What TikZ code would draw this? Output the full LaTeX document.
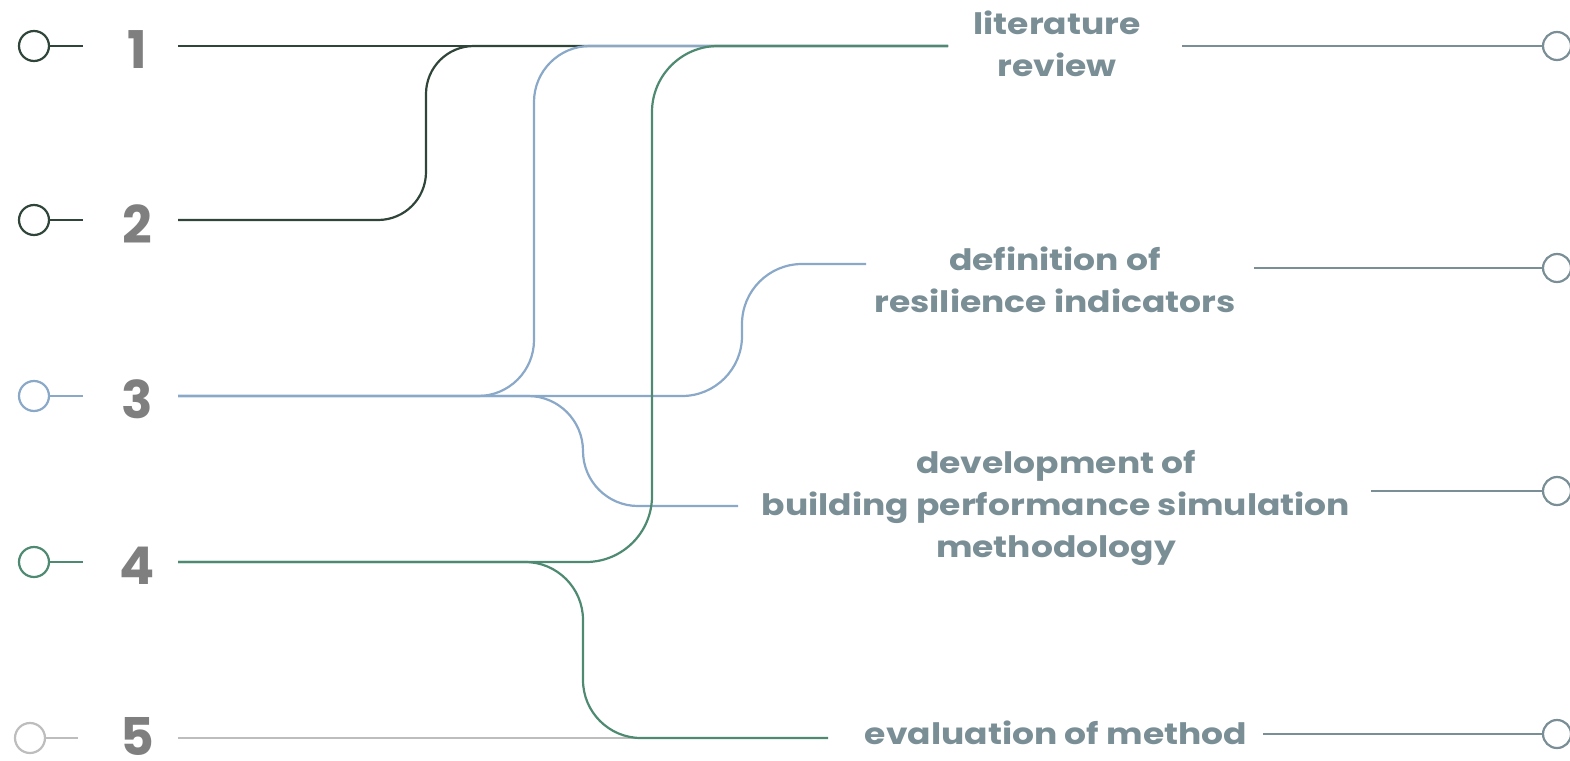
\documentclass[tikz,border=0pt]{standalone}
\usepackage{fontspec}
\setmainfont{Poppins}
\newfontfamily\labfont{Poppins}[FakeStretch=1.17]
\definecolor{cdark}{HTML}{2F453A}
\definecolor{cblue}{HTML}{8AA8C8}
\definecolor{cgreen}{HTML}{4E8A72}
\definecolor{clab}{HTML}{7A8E96}
\definecolor{cnum}{HTML}{7F7F7F}
\definecolor{cgray}{HTML}{BDBDBD}
\begin{document}
\begin{tikzpicture}[x=1pt,y=-1pt,
  lcirc/.style={circle,draw,line width=2.2pt,minimum size=30pt,inner sep=0pt,fill=white},
  rcirc/.style={circle,draw=clab,line width=2.2pt,minimum size=28pt,inner sep=0pt,fill=white},
  num/.style={text=cnum,inner sep=0pt,font=\fontsize{52}{52}\selectfont\bfseries},
  lab/.style={text=clab,align=center,font=\labfont\fontsize{29.5}{42}\selectfont\bfseries},
  wire/.style={line width=2.2pt},
  rwire/.style={line width=2.2pt,draw=clab}]
\useasboundingbox (0,0) rectangle (1570,760);

% left circles
\node[lcirc,draw=cdark] (c1) at (34,46) {};
\node[lcirc,draw=cdark] (c2) at (34,220) {};
\node[lcirc,draw=cblue] (c3) at (34,396) {};
\node[lcirc,draw=cgreen] (c4) at (34,562) {};
\node[lcirc,draw=cgray] (c5) at (30,738) {};
\coordinate (s1) at (83,46);
\coordinate (s2) at (83,220);
\coordinate (s3) at (83,396);
\coordinate (s4) at (83,562);
\coordinate (s5) at (78,738);
\draw[wire,cdark] (c1.east) -- (s1);
\draw[wire,cdark] (c2.east) -- (s2);
\draw[wire,cblue] (c3.east) -- (s3);
\draw[wire,cgreen] (c4.east) -- (s4);
\draw[wire,cgray] (c5.east) -- (s5);

% numbers
\node[num] (n1) at (137,50) {1};
\node[num] (n2) at (137,224) {2};
\node[num] (n3) at (137,399) {3};
\node[num] (n4) at (137,566) {4};
\node[num] (n5) at (137,736) {5};

% start points of connectors
\coordinate (a1) at (178,46);
\coordinate (a2) at (178,220);
\coordinate (a3) at (178,396);
\coordinate (a4) at (178,562);
\coordinate (a5) at (178,738);

% ends / bends
\coordinate (top) at (948,46);
\coordinate (b2) at (426,46);
\coordinate (b3) at (534,46);
\coordinate (b3d) at (742,264);
\coordinate (d2l) at (866,264);
\coordinate (b3v) at (583,506);
\coordinate (d3l) at (738,506);
\coordinate (b4) at (652,46);
\coordinate (b5) at (583,738);
\coordinate (e5) at (828,738);

% connectors
\draw[wire,cgray] (a5) -- (e5);
\draw[wire,cdark] (a1) -- (top);
\draw[wire,cdark,rounded corners=48pt] (a2) -| (b2) -- (top);
\draw[wire,cblue,rounded corners=56pt] (a3) -| (b3) -- (top);
\draw[wire,cblue,rounded corners=60pt] (a3) -| (b3d) -- (d2l);
\draw[wire,cblue,rounded corners=55pt] (a3) -| (b3v) -- (d3l);
\draw[wire,cgreen,rounded corners=66pt] (a4) -| (b4) -- (top);
\draw[wire,cgreen,rounded corners=58pt] (a4) -| (b5) -- (e5);

% labels
\node[lab] (l1) at (1057,44) {literature\\review};
\node[lab] (l2) at (1055,280) {definition of\\resilience indicators};
\node[lab] (l3) at (1056,508) {development of\\building performance simulation\\methodology};
\node[lab] (l4) at (1056,733) {evaluation of method};

% right side
\node[rcirc] (rc1) at (1557,46) {};
\node[rcirc] (rc2) at (1557,268) {};
\node[rcirc] (rc3) at (1557,491) {};
\node[rcirc] (rc4) at (1557,734) {};
\coordinate (r1) at (1182,46);
\coordinate (r2) at (1254,268);
\coordinate (r3) at (1371,491);
\coordinate (r4) at (1263,734);
\draw[rwire] (r1) -- (rc1.west);
\draw[rwire] (r2) -- (rc2.west);
\draw[rwire] (r3) -- (rc3.west);
\draw[rwire] (r4) -- (rc4.west);
\end{tikzpicture}
\end{document}
